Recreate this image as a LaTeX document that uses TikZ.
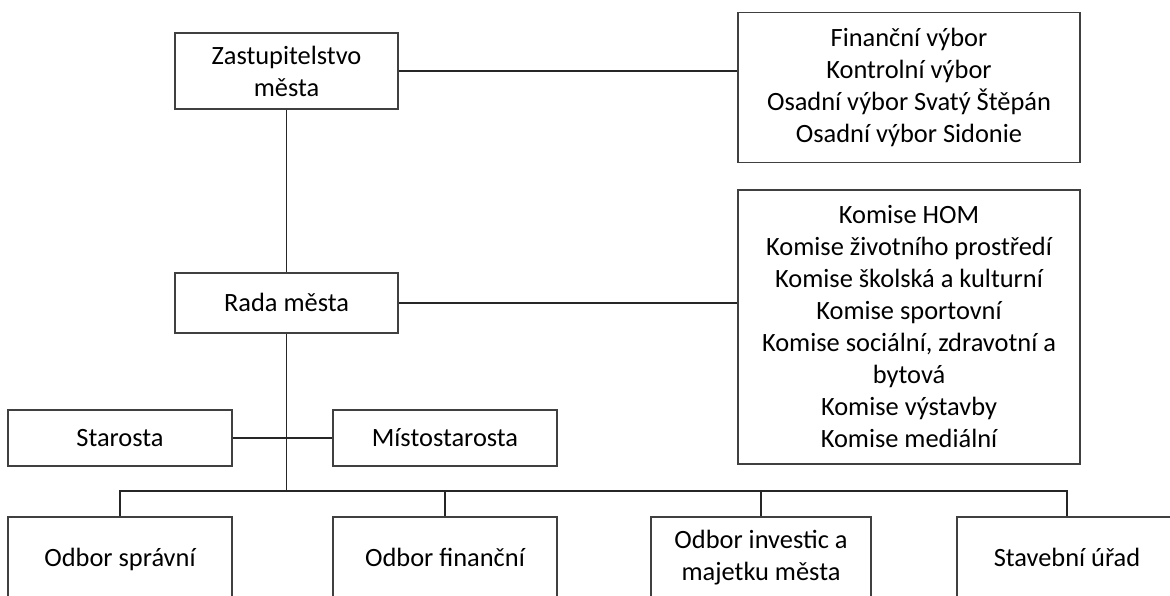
\documentclass[tikz,border=0pt]{standalone}
\usepackage{fontspec}
\setmainfont{Carlito}
\usepackage{tikz}
\usetikzlibrary{positioning}

\newcommand{\boxstrut}{\rule[-2pt]{0pt}{12.5pt}}

\begin{document}
\begin{tikzpicture}[
    x=0.5pt, y=-0.5pt,
    font=\fontsize{13.2}{16}\selectfont,
    unit/.style={
		rectangle,
		draw=black!75,
		line width=0.6pt,
		align=center,
		inner sep=0pt,
		fill=white
	},
	link/.style={
		draw=black!85,
		line width=0.6pt
	}
  ]
    % page size, boxes at the bottom are cut off
  \useasboundingbox (0,0) rectangle (1170,595);
  \clip (0,0) rectangle (1170,595);

    % left column
  \node [unit, minimum width=111.5pt, minimum height=38pt] (zastupitelstvo) at (286.5,71)
 {Zastupitelstvo\\města};
  \node [unit, minimum width=111.5pt, minimum height=30pt] (rada) at (286.5,303)
 {\boxstrut Rada města};

    % committees on the right
  \node [unit, minimum width=171pt, minimum height=75pt] (vybory) at (909,87.5)
 {Finanční výbor\\Kontrolní výbor\\Osadní výbor Svatý Štěpán\\Osadní výbor Sidonie};
  \node [unit, minimum width=171pt, minimum height=137pt] (komise) at (909,327)
 {Komise HOM\\Komise životního prostředí\\Komise školská a kulturní\\Komise sportovní\\Komise sociální, zdravotní a\\bytová\\Komise výstavby\\Komise mediální};

    % mayors
  \node [unit, minimum width=112pt, minimum height=28pt] (starosta) at (120,438)
 {\boxstrut Starosta};
  \node [unit, minimum width=112pt, minimum height=28pt] (mistostarosta) at (445,438)
 {\boxstrut Místostarosta};

    % departments
  \node [unit, minimum width=112pt, minimum height=41pt] (spravni) at (120,558)
 {\boxstrut Odbor správní};
  \node [unit, minimum width=112pt, minimum height=41pt] (financni) at (445,558)
 {\boxstrut Odbor finanční};
  \node [unit, minimum width=110pt, minimum height=41pt] (investic) at (761,558)
 {Odbor investic a\\majetku města};
  \node [unit, minimum width=110pt, minimum height=41pt] (stavebni) at (1067,558)
 {\boxstrut Stavební úřad};

  \coordinate (split) at (286.5,491);

 \draw [link] (zastupitelstvo.east) -- (zastupitelstvo.east -| vybory.west);
 \draw [link] (zastupitelstvo) -- (rada);
 \draw [link] (rada.east) -- (rada.east -| komise.west);
 \draw [link] (rada) -- (split);
 \draw [link] (starosta) -- (mistostarosta);
 \draw [link] (spravni.north) |- (split) -| (stavebni.north);
 \draw [link] (financni.north) -- (financni.north |- split);
 \draw [link] (investic.north) -- (investic.north |- split);

\end{tikzpicture}
\end{document}
